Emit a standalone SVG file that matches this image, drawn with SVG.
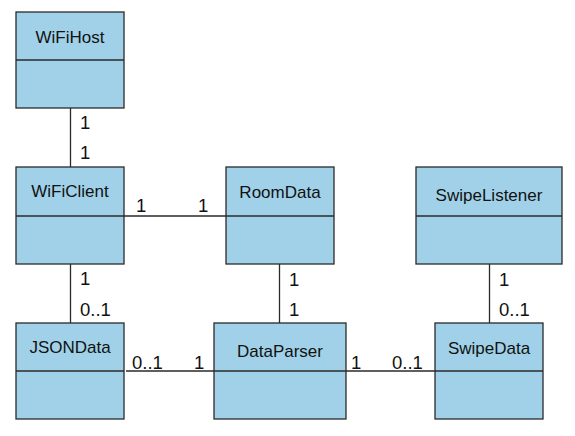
<svg xmlns="http://www.w3.org/2000/svg" width="575" height="436" viewBox="0 0 575 436">
<style>
.box{fill:#a0d1e8;stroke:#2a2a2a;stroke-width:1.3}
.div{stroke:#2a2a2a;stroke-width:1.3}
.name{font-family:"Liberation Sans",Arial,sans-serif;font-size:17px;fill:#111;text-anchor:middle}
.lbl{font-family:"Liberation Sans",Arial,sans-serif;font-size:18.5px;fill:#111}
.conn line{stroke:#2a2a2a;stroke-width:1.3}
</style>
<rect width="575" height="436" fill="#fff"/>
<g id="conns" class="conn">
<line x1="70.5" y1="108" x2="70.5" y2="167"/>
<line x1="124" y1="216" x2="226" y2="216"/>
<line x1="70.5" y1="264" x2="70.5" y2="323"/>
<line x1="279.5" y1="264" x2="279.5" y2="323"/>
<line x1="489.5" y1="264" x2="489.5" y2="323"/>
<line x1="126" y1="371" x2="214" y2="371"/>
<line x1="346" y1="371" x2="435" y2="371"/>
</g>
<g id="labels">
<text class="lbl" x="80" y="129">1</text>
<text class="lbl" x="80" y="159">1</text>
<text class="lbl" x="136" y="212">1</text>
<text class="lbl" x="198" y="212">1</text>
<text class="lbl" x="80" y="285">1</text>
<text class="lbl" x="80" y="316">0..1</text>
<text class="lbl" x="289" y="286">1</text>
<text class="lbl" x="289" y="316">1</text>
<text class="lbl" x="499" y="286">1</text>
<text class="lbl" x="499" y="316">0..1</text>
<text class="lbl" x="132" y="369">0..1</text>
<text class="lbl" x="194" y="369">1</text>
<text class="lbl" x="351" y="369">1</text>
<text class="lbl" x="392" y="369">0..1</text>
</g>
<g id="WiFiHost">
<rect class="box" x="16" y="12" width="108" height="96"/>
<line class="div" x1="16" y1="60" x2="124" y2="60"/>
<text class="name" x="70" y="43">WiFiHost</text>
</g>
<g id="WiFiClient">
<rect class="box" x="16" y="167" width="108" height="97"/>
<line class="div" x1="16" y1="216" x2="124" y2="216"/>
<text class="name" x="70" y="197">WiFiClient</text>
</g>
<g id="RoomData">
<rect class="box" x="226" y="167" width="108" height="97"/>
<line class="div" x1="226" y1="216" x2="334" y2="216"/>
<text class="name" x="280" y="198">RoomData</text>
</g>
<g id="SwipeListener">
<rect class="box" x="416" y="167" width="146" height="97"/>
<line class="div" x1="416" y1="216" x2="562" y2="216"/>
<text class="name" x="489" y="201">SwipeListener</text>
</g>
<g id="JSONData">
<rect class="box" x="16" y="323" width="108" height="96"/>
<line class="div" x1="16" y1="371" x2="124" y2="371"/>
<text class="name" x="70" y="353">JSONData</text>
</g>
<g id="DataParser">
<rect class="box" x="214" y="323" width="132" height="96"/>
<line class="div" x1="214" y1="371" x2="346" y2="371"/>
<text class="name" x="280" y="357">DataParser</text>
</g>
<g id="SwipeData">
<rect class="box" x="435" y="323" width="108" height="96"/>
<line class="div" x1="435" y1="371" x2="543" y2="371"/>
<text class="name" x="489" y="354">SwipeData</text>
</g>
</svg>
